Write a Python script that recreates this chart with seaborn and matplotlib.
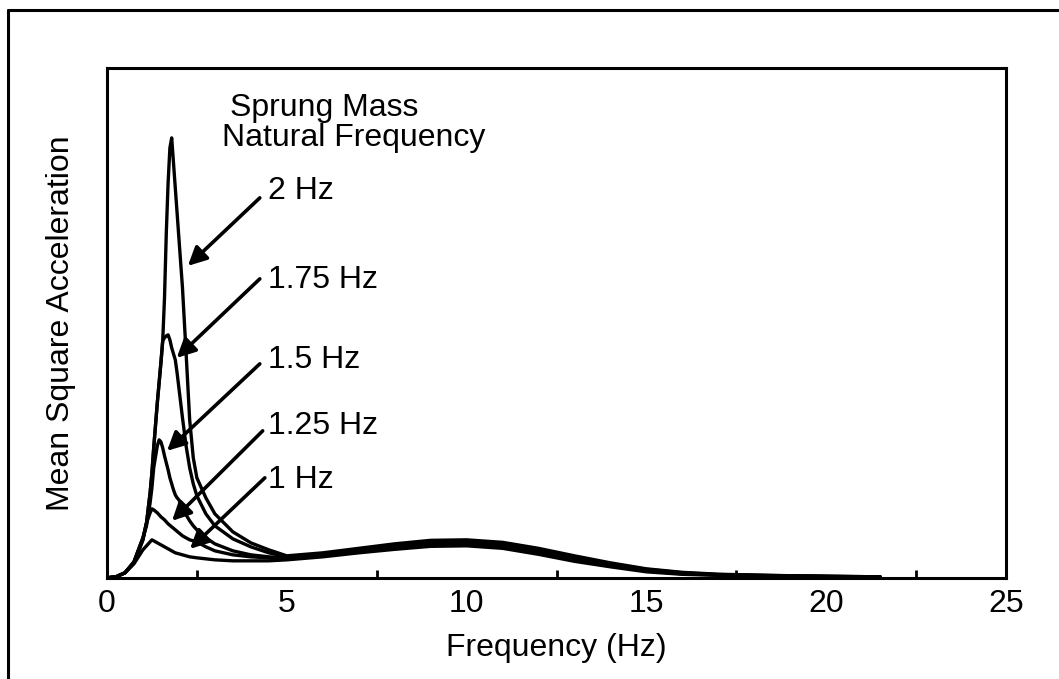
"""
Sprung mass natural frequency vs mean square acceleration
Redraw of the ride-response spectrum figure
"""

import numpy as np
import pandas as pd
import matplotlib
matplotlib.use("Agg")
import matplotlib.pyplot as plt
from matplotlib.lines import Line2D
import seaborn as sns

# Frequency grid (Hz) shared by all curves
freq = [0, 0.25, 0.5, 0.75, 1.0, 1.1, 1.2, 1.25, 1.3, 1.4, 1.45, 1.5, 1.55, 1.6,
        1.65, 1.7, 1.75, 1.8, 1.85, 1.9, 1.95, 2.0, 2.1, 2.2, 2.3, 2.4, 2.5,
        2.75, 3.0, 3.5, 4.0, 4.5, 5.0, 6, 7, 8, 9, 10, 11, 12, 13, 14, 15, 16,
        17, 18, 19, 20, 21, 21.5]

# Mean square acceleration (arbitrary units)
msa_1hz = [0, 1, 5, 14, 28, 32, 36, 38, 37, 35, 34, 33, 32, 31,
           30, 29, 28, 27, 26, 25, 24.5, 24, 23, 22, 21, 20.5, 20,
           19, 18, 17, 17, 17, 18, 21, 25, 28.5, 31.5, 32, 29.5, 23.5, 16.5, 11, 6, 3.5,
           2.5, 2, 1.5, 1.2, 1, 0.8]
msa_125hz = [0, 1, 5, 16, 40, 55, 65, 69, 68, 65, 63, 61, 59.5, 58,
             56, 54, 52.5, 51, 49.5, 48, 46.5, 45, 42, 40, 38, 37, 36,
             31, 27, 23, 21, 20, 19, 22, 26, 30, 33, 33.5, 31, 25, 18, 12, 7, 4,
             2.8, 2.2, 1.7, 1.3, 1, 0.8]
msa_15hz = [0, 1, 5, 16, 40, 52, 75, 90, 110, 132, 138, 136, 130, 122,
            115, 108, 100, 94, 88, 83, 80, 78, 70, 63, 57, 52, 48,
            40, 34, 27, 23, 21, 20, 23, 27.5, 31.5, 34.5, 35, 32.5, 26.5, 19.5, 13, 7.5, 4.5,
            3, 2.4, 1.8, 1.4, 1.1, 0.9]
msa_175hz = [0, 1, 5, 15, 38, 55, 85, 105, 130, 175, 195, 215, 237, 240,
             242, 243, 238, 230, 224, 218, 205, 190, 160, 132, 110, 94, 82,
             64, 52, 39, 31, 25, 21, 24, 28.5, 33, 36, 36.5, 34, 28, 21, 14, 8.5, 5,
             3.3, 2.6, 2, 1.5, 1.2, 0.9]
msa_2hz = [0, 1, 5, 15, 38, 55, 85, 105, 130, 175, 195, 215, 237, 280,
           345, 395, 430, 440, 415, 390, 365, 340, 290, 225, 158, 120, 100,
           80, 64, 46, 35, 28, 22, 25, 29.5, 34, 37.5, 38, 35.5, 29.5, 22, 15, 9, 5.5,
           3.6, 2.8, 2.1, 1.6, 1.2, 1]

curve_names = ["1 Hz", "1.25 Hz", "1.5 Hz", "1.75 Hz", "2 Hz"]
curve_values = [msa_1hz, msa_125hz, msa_15hz, msa_175hz, msa_2hz]

df = pd.concat([pd.DataFrame({"freq": freq, "msa": vals, "fn": name})
                for name, vals in zip(curve_names, curve_values)], ignore_index=True)

# Label text and arrow (tail -> head) positions in data units
label_pos = {"2 Hz": (4.47, 379), "1.75 Hz": (4.47, 290), "1.5 Hz": (4.47, 210),
             "1.25 Hz": (4.47, 144), "1 Hz": (4.47, 90)}
arrow_tail = {"2 Hz": (4.25, 380), "1.75 Hz": (4.25, 299), "1.5 Hz": (4.25, 214),
              "1.25 Hz": (4.33, 147), "1 Hz": (4.39, 100)}
arrow_head = {"2 Hz": (2.25, 312), "1.75 Hz": (1.94, 220), "1.5 Hz": (1.67, 127),
              "1.25 Hz": (1.81, 57), "1 Hz": (2.31, 29)}

sns.set_style("white")
plt.rcParams['font.family'] = ['Liberation Sans', 'DejaVu Sans']
plt.rcParams['text.color'] = 'black'
plt.rcParams['axes.labelcolor'] = 'black'
plt.rcParams['xtick.color'] = 'black'

fig = plt.figure(figsize=(10.59, 6.79), dpi=100)
ax = fig.add_axes([0.101, 0.149, 0.849, 0.751])

sns.lineplot(data=df, x="freq", y="msa", hue="fn", units="fn", estimator=None,
             palette=["black"] * 5, legend=False, linewidth=2.4, ax=ax)

ax.set_xlim(0, 25)
ax.set_ylim(0, 510)
ax.set_xticks([0, 5, 10, 15, 20, 25])
ax.set_xticks([2.5, 7.5, 12.5, 17.5, 22.5], minor=True)
ax.set_yticks([])
ax.tick_params(axis='x', which='major', direction='in', length=9, width=2,
               labelsize=23, pad=8, color='black', labelcolor='black')
ax.tick_params(axis='x', which='minor', direction='in', length=6, width=2,
               color='black', bottom=True)
for s in ax.spines.values():
    s.set_linewidth(2.2)
    s.set_color('black')

ax.set_xlabel("Frequency (Hz)", fontsize=23, labelpad=10, color='black')
ax.set_ylabel("Mean Square Acceleration", fontsize=23, labelpad=22, color='black')

# Caption and arrowed labels
ax.text(3.42, 462, "Sprung Mass", fontsize=23, ha='left', va='baseline', color='black')
ax.text(3.19, 432, "Natural Frequency", fontsize=23, ha='left', va='baseline', color='black')
for name in curve_names:
    ax.text(*label_pos[name], name, fontsize=23, ha='left', va='baseline', color='black')
    ax.annotate("", xy=arrow_head[name], xytext=arrow_tail[name],
                arrowprops=dict(arrowstyle='-|>', lw=2.6, color='black',
                                mutation_scale=28, shrinkA=0, shrinkB=0))

# outer frame of the scanned page (left and top edges only)
fig.add_artist(Line2D([8 / 1059, 8 / 1059], [0, 1 - 10 / 679], color='black', lw=2.2))
fig.add_artist(Line2D([8 / 1059, 1], [1 - 10 / 679, 1 - 10 / 679], color='black', lw=2.2))

plt.savefig("out.png", dpi=100)
